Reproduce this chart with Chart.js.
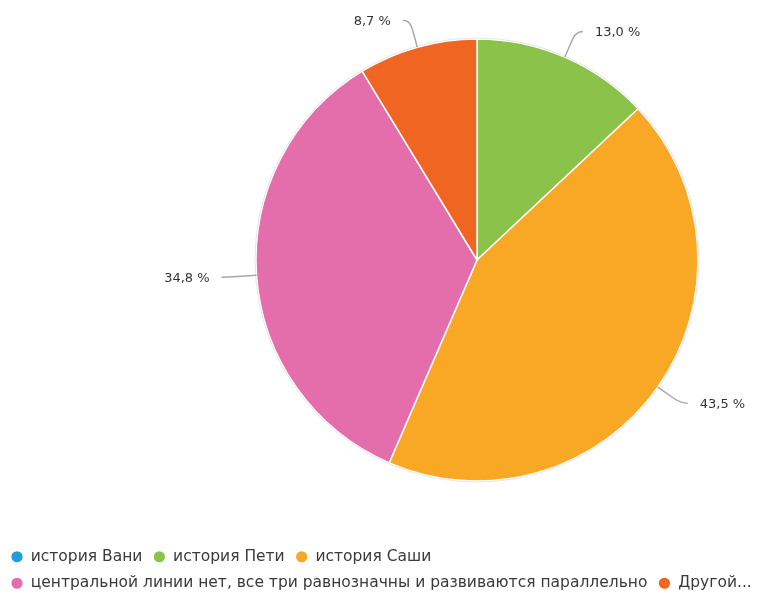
<!DOCTYPE html>
<html>
<head>
<meta charset="utf-8">
<script src="https://cdn.jsdelivr.net/npm/chart.js@4"></script>
<style>
  html, body { margin: 0; padding: 0; background: #fff; overflow: hidden; }
  #wrap { width: 774px; height: 594px; }
</style>
</head>
<body>
<div id="wrap"><canvas id="pieChart" width="774" height="594"></canvas></div>
<script>
// Ответы на вопрос, чья история главная (в процентах)
const answers = [
    'история Вани',
    'история Пети',
    'история Саши',
    'центральной линии нет, все три равнозначны и развиваются параллельно',
    'Другой...'
];
const shares = [0, 13.0, 43.5, 34.8, 8.7];
const sliceColors = ['#1e9fdc', '#8bc34a', '#f9a825', '#e46dac', '#f16522'];

const fmtPercent = v => v.toFixed(1).replace('.', ',') + ' %';

// Подписи снаружи круга с загнутыми выносками
const outsideLabels = {
    id: 'outsideLabels',
    afterDatasetsDraw(chart) {
        const ctx = chart.ctx;
        const meta = chart.getDatasetMeta(0);
        ctx.save();
        // лёгкая серая кромка по краю круга
        const a0 = meta.data[0];
        ctx.beginPath();
        ctx.arc(a0.x, a0.y, a0.outerRadius + 1, 0, Math.PI * 2);
        ctx.strokeStyle = 'rgba(0,0,0,0.10)';
        ctx.lineWidth = 1;
        ctx.stroke();

        ctx.font = '13px "DejaVu Sans"';
        ctx.fillStyle = '#333';
        ctx.textBaseline = 'middle';
        meta.data.forEach((arc, i) => {
            const v = shares[i];
            if (!v) return;
            const mid = (arc.startAngle + arc.endAngle) / 2;
            const dx = Math.cos(mid), dy = Math.sin(mid);
            const r = arc.outerRadius;
            const sx = arc.x + dx * r, sy = arc.y + dy * r;
            const ex = arc.x + dx * (r + 28), ey = arc.y + dy * (r + 28);
            const mx = arc.x + dx * (r + 19), my = arc.y + dy * (r + 19);
            const side = dx >= 0 ? 1 : -1;
            const fx = ex + side * 7, fy = ey;
            ctx.beginPath();
            ctx.moveTo(sx, sy);
            ctx.lineTo(mx, my);
            ctx.quadraticCurveTo(ex, ey, fx, fy);
            ctx.strokeStyle = '#a8a8a8';
            ctx.lineWidth = 1.5;
            ctx.stroke();
            ctx.textAlign = side > 0 ? 'left' : 'right';
            ctx.fillText(fmtPercent(v), fx + side * 12, fy + 1);
        });
        ctx.restore();
    }
};

new Chart(document.getElementById('pieChart').getContext('2d'), {
    type: 'pie',
    data: {
        labels: answers,
        datasets: [{
            data: shares,
            backgroundColor: sliceColors,
            borderColor: '#ffffff',
            borderWidth: 1.5,
            radius: 221
        }]
    },
    options: {
        responsive: false,
        animation: false,
        layout: {
            padding: { left: 0, right: 0, top: 0, bottom: -7 }
        },
        plugins: {
            tooltip: { enabled: false },
            // пустой заголовок слева сдвигает круг вправо
            title: {
                display: true,
                text: '',
                position: 'left',
                fullSize: false,
                font: { size: 10, lineHeight: 1 },
                padding: { top: 85, bottom: 85 }
            },
            legend: {
                display: true,
                position: 'bottom',
                align: 'start',
                // пустой заголовок легенды даёт отступ над строками
                title: {
                    display: true,
                    text: '',
                    font: { size: 10, lineHeight: 1 },
                    padding: { top: 4, bottom: 4 }
                },
                labels: {
                    usePointStyle: true,
                    pointStyle: 'circle',
                    boxWidth: 12,
                    boxHeight: 9,
                    padding: 11,
                    color: '#3a3a3a',
                    font: { family: '"DejaVu Sans"', size: 15.5 }
                }
            }
        }
    },
    plugins: [outsideLabels]
});
</script>
</body>
</html>
